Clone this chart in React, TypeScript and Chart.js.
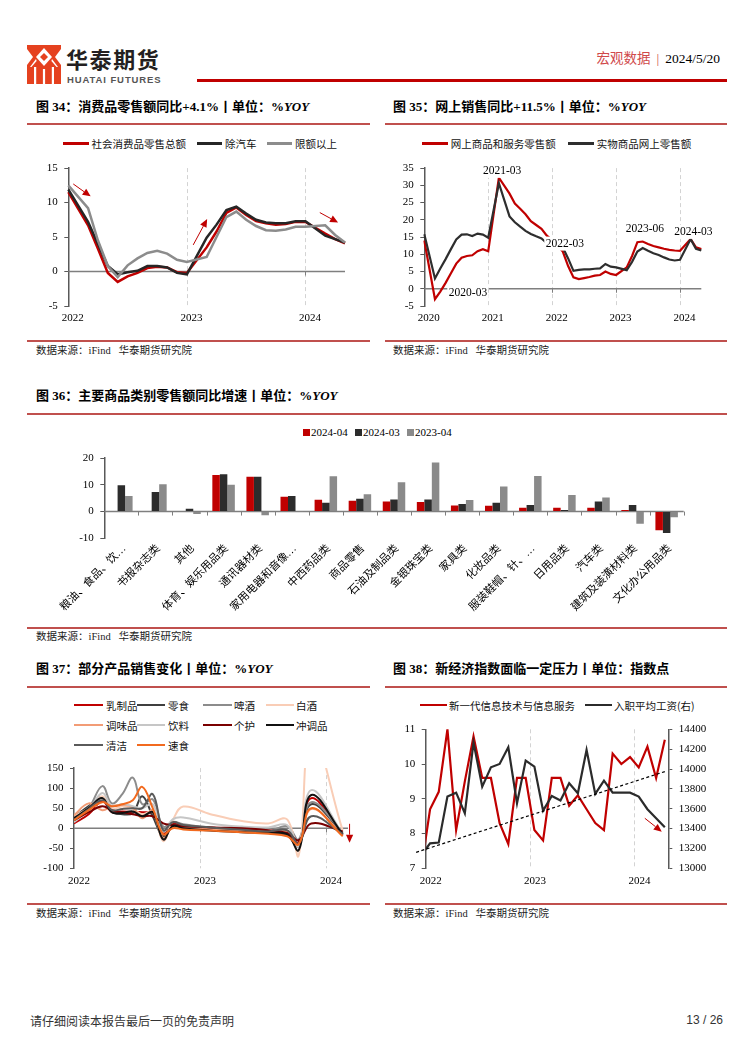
import React, { useEffect, useRef } from "react";
import { Chart, registerables } from "chart.js";

Chart.register(...registerables);

const SERIF = "'Liberation Serif', 'Noto Sans CJK SC', serif";
const SANS = "'Noto Sans CJK SC', 'Liberation Sans', sans-serif";
const RED = "#C00000";
const RULE = "#C0504D";

function monthSeq(year: number, month: number, n: number): string[] {
  const out: string[] = [];
  for (let i = 0; i < n; i++) {
    const t = year * 12 + (month - 1) + i;
    out.push(`${Math.floor(t / 12)}-${String((t % 12) + 1).padStart(2, "0")}`);
  }
  return out;
}
// month-end convention: the December point sits on the next year's boundary
const yearAtBoundary = (m: string) => (m.endsWith("-12") ? String(Number(m.slice(0, 4)) + 1) : "");

// ===================== 图34 =====================
const months34 = monthSeq(2021, 12, 29);
const names34 = ["社会消费品零售总额", "除汽车", "限额以上"];
const total34 = [11.5, null, 6.7, 3.3, -0.2, -1.5, -0.7, -0.2, 0.5, 0.7, 0.6, -0.1, -0.2, null, 3.5, 5.8, 8.5, 9.3, 8.2, 7.3, 7.0, 6.8, 6.9, 7.2, 7.2, null, 5.5, 4.7, 4.1];
const exAuto34 = [11.9, null, 7.2, 4.0, 0.8, -0.4, -0.1, 0.1, 0.8, 0.8, 0.6, -0.2, -0.4, null, 4.9, 6.8, 8.9, 9.4, 8.4, 7.5, 7.1, 7.0, 7.0, 7.3, 7.3, null, 5.2, 4.7, 4.2];
const aboveQuota34 = [12.5, null, 9.2, 4.5, 0.8, -0.8, 0.9, 1.9, 2.7, 3.0, 2.6, 1.7, 1.4, null, 2.1, 5.0, 7.9, 8.7, 7.5, 6.6, 6.0, 5.9, 6.1, 6.5, 6.5, null, 6.7, 5.3, 4.2];
const arrows34 = [
  { from: [0.5, 12.7], to: [2.26, 10.9] },
  { from: [12.64, 3.86], to: [14.05, 7.6] },
  { from: [25.45, 8.55], to: [27.3, 7.1] },
];

// ===================== 图35 =====================
const months35 = monthSeq(2019, 12, 53);
const names35 = ["网上商品和服务零售额", "实物商品网上零售额"];
const online35 = [
  14.0, null, -3.0, -0.8, 1.7, 4.5, 7.3, 9.0, 9.5, 9.7, 10.9, 11.5, 10.9,
  null, 32.2, 29.9, 27.6, 24.7, 23.2, 21.6, 19.6, 18.5, 17.4, 15.4, 14.1,
  null, 10.8, 6.6, 3.3, 2.8, 3.1, 3.4, 3.8, 4.0, 5.0, 4.3, 4.0,
  null, 6.2, 9.5, 13.5, 13.7, 13.0, 12.4, 12.0, 11.6, 11.3, 11.1, 11.0,
  null, 14.4, 12.0, 11.5,
];
const physical35 = [
  15.8, null, 3.0, 5.9, 8.6, 11.5, 14.3, 15.7, 15.8, 15.3, 16.0, 15.7, 14.8,
  null, 30.6, 25.8, 21.0, 19.3, 18.0, 16.8, 15.9, 15.2, 14.6, 13.2, 12.0,
  null, 12.0, 8.8, 5.2, 5.5, 5.6, 5.6, 5.8, 5.9, 7.2, 6.4, 6.2,
  null, 5.4, 7.8, 10.8, 11.8, 11.0, 10.3, 9.8, 9.1, 8.5, 8.2, 8.4,
  null, 14.4, 11.6, 11.1,
];
const notes35 = [
  { x: 14.6, y: 34.2, text: "2021-03" },
  { x: 8.2, y: -1.0, text: "2020-03" },
  { x: 26.4, y: 13.1, text: "2022-03" },
  { x: 41.4, y: 17.5, text: "2023-06" },
  { x: 50.5, y: 16.5, text: "2024-03" },
];

// ===================== 图36 =====================
const cats36 = ["粮油、食品、饮…", "书报杂志类", "其他", "体育、娱乐用品类", "通讯器材类", "家用电器和音像…", "中西药品类", "商品零售", "石油及制品类", "金银珠宝类", "家具类", "化妆品类", "服装鞋帽、针、…", "日用品类", "汽车类", "建筑及装潢材料类", "文化办公用品类"];
const names36 = ["2024-04", "2024-03", "2023-04"];
const apr24 = [null, null, null, 13.7, 13.0, 5.5, 4.4, 4.0, 3.8, 3.6, 2.3, 2.2, 1.4, 1.4, 1.4, 0.6, -7.0];
const mar24 = [9.8, 7.3, 1.1, 14.0, 13.0, 5.8, 3.3, 4.8, 4.5, 4.5, 2.8, 3.3, 2.5, 0.6, 3.8, 2.5, -8.0];
const apr23 = [5.8, 10.2, -0.9, 10.0, -1.4, 0.1, 13.2, 6.5, 11.0, 18.4, 4.3, 9.4, 13.3, 6.2, 5.3, -4.6, -2.1];

// ===================== 图37 =====================
const years37 = ["2022", "2023", "2024"];
const monthPos37 = [0, 1.4, 2.7, 3.6, 4.6, 5.6, 6.5, 7.5, 8.5, 9.4, 10.4, 13, 16, 18.5, 20.3, 21.4, 22.6, 25.6];
const names37 = ["乳制品", "零食", "啤酒", "白酒", "调味品", "饮料", "个护", "冲调品", "清洁", "速食"];
const dairy37 = [12, 35, 68, 40, 42, 40, 40, 35, -12, 12, 6, 2, -2, -6, -10, -35, 75, -18];
const snack37 = [28, 55, 78, 42, 35, 38, 80, 30, -20, 8, 2, -4, -8, -12, -18, -45, 60, -12];
const beer37 = [18, 50, 105, 62, 85, 126, 60, 72, 4, 16, 10, 2, -4, -8, 5, -28, 65, -10];
const liquor37 = [30, 50, 80, 48, 55, 48, 35, 40, -32, 20, 54, 35, 18, 12, 22, -68, 240, -6];
const season37 = [32, 62, 45, 55, 58, 52, 25, 45, -25, 5, 0, -2, -6, -8, -10, -40, 48, -16];
const drink37 = [15, 45, 88, 55, 60, 55, 50, 60, -8, 22, 27, 12, 4, 2, 8, -45, 95, -14];
const care37 = [20, 40, 55, 45, 40, 35, 30, 30, 12, 8, 5, 2, 0, -5, -12, -30, 12, -8];
const brew37 = [25, 50, 75, 40, 38, 42, 30, 40, -28, 5, 0, -6, -10, -12, -15, -55, 83, -15];
const clean37 = [20, 48, 70, 45, 48, 50, 50, 85, -5, 15, 8, 2, -4, -8, -5, -38, 30, -14];
const instant37 = [20, 45, 65, 55, 60, 70, 103, 50, -15, 0, -3, -6, -10, -14, -20, -40, 50, -20];
const colors37 = ["#C00000", "#3F3F3F", "#8C8C8C", "#F9CDB6", "#F29C76", "#C6C6C6", "#7A0000", "#111111", "#5A5A5A", "#F26A1F"];
const series37 = [dairy37, snack37, beer37, liquor37, season37, drink37, care37, brew37, clean37, instant37];
const arrow37 = { from: [26.25, 11], to: [26.25, -36] };

// ===================== 图38 =====================
const years38 = ["2022", "2023", "2024"];
const months38 = monthSeq(2021, 12, 29);
const names38 = ["新一代信息技术与信息服务", "入职平均工资(右)"];
const infoTech38 = [7.0, 8.7, 9.2, 11.0, 8.1, 9.5, 10.8, 9.6, 9.6, 8.3, 7.7, 9.6, 9.6, 8.1, 7.8, 9.6, 9.6, 8.8, 9.1, 8.7, 8.3, 8.1, 10.3, 10.0, 10.2, 9.9, 10.5, 9.6, 10.7];
const wage38 = [13132, 13252, 13259, 13722, 13762, 13554, 14266, 13823, 14017, 14051, 14219, 13655, 14085, 14024, 13581, 13729, 13682, 13856, 13756, 14192, 13749, 13883, 13762, 13762, 13762, 13722, 13595, 13504, 13413];
const trendX38 = [-1.1, 27.5];
const trendY38 = [13161, 13974];
const arrow38 = { from: [25.2, 13504], to: [27.15, 13369], axis: "y1" };

// ===================== helpers =====================
type Arrow = { from: number[]; to: number[]; axis?: string };
type Note = { x: number; y: number; text: string };
type DecorCfg = { vlines?: number[]; zero?: boolean; zeroTicks?: number[]; arrows?: Arrow[]; notes?: Note[]; head?: number };

function decor(cfg: DecorCfg) {
  return {
    id: "decor",
    beforeDatasetsDraw(chart: any) {
      const { ctx, chartArea: a } = chart;
      const xs = chart.scales.x;
      const ys = chart.scales.y;
      ctx.save();
      if (cfg.vlines) {
        ctx.strokeStyle = "#D3D3D3";
        ctx.lineWidth = 1;
        ctx.setLineDash([4, 3]);
        for (const v of cfg.vlines) {
          const px = Math.round(xs.getPixelForValue(v)) + 0.5;
          ctx.beginPath();
          ctx.moveTo(px, a.top);
          ctx.lineTo(px, a.bottom);
          ctx.stroke();
        }
        ctx.setLineDash([]);
      }
      if (cfg.zero) {
        const py = ys.getPixelForValue(0);
        ctx.strokeStyle = "#7F7F7F";
        ctx.lineWidth = 1.5;
        ctx.beginPath();
        ctx.moveTo(a.left, py);
        ctx.lineTo(a.right, py);
        ctx.stroke();
        ctx.lineWidth = 1;
        for (const v of cfg.zeroTicks || []) {
          const px = Math.round(xs.getPixelForValue(v)) + 0.5;
          ctx.beginPath();
          ctx.moveTo(px, py);
          ctx.lineTo(px, py + 4);
          ctx.stroke();
        }
      }
      ctx.restore();
    },
    afterDatasetsDraw(chart: any) {
      const { ctx } = chart;
      const xs = chart.scales.x;
      ctx.save();
      for (const ar of cfg.arrows || []) {
        const ys = chart.scales[ar.axis || "y"];
        const x1 = xs.getPixelForValue(ar.from[0]);
        const y1 = ys.getPixelForValue(ar.from[1]);
        const x2 = xs.getPixelForValue(ar.to[0]);
        const y2 = ys.getPixelForValue(ar.to[1]);
        const ang = Math.atan2(y2 - y1, x2 - x1);
        const hl = cfg.head || 8;
        const hw = (cfg.head || 8) * 0.45;
        const bx = x2 - hl * Math.cos(ang);
        const by = y2 - hl * Math.sin(ang);
        ctx.strokeStyle = RED;
        ctx.fillStyle = RED;
        ctx.lineWidth = 1;
        ctx.beginPath();
        ctx.moveTo(x1, y1);
        ctx.lineTo(bx, by);
        ctx.stroke();
        ctx.beginPath();
        ctx.moveTo(x2, y2);
        ctx.lineTo(bx - hw * Math.sin(ang), by + hw * Math.cos(ang));
        ctx.lineTo(bx + hw * Math.sin(ang), by - hw * Math.cos(ang));
        ctx.closePath();
        ctx.fill();
      }
      const ys0 = chart.scales.y;
      for (const n of cfg.notes || []) {
        const px = xs.getPixelForValue(n.x);
        const py = ys0.getPixelForValue(n.y);
        ctx.font = `11.5px ${SERIF}`;
        const w = ctx.measureText(n.text).width;
        ctx.fillStyle = "#FFFFFF";
        ctx.fillRect(px - w / 2 - 1.5, py - 7, w + 3, 14);
        ctx.fillStyle = "#000000";
        ctx.textAlign = "center";
        ctx.textBaseline = "middle";
        ctx.fillText(n.text, px, py + 0.5);
      }
      ctx.restore();
    },
  };
}

function yAxis(min: number, max: number, step: number, width: number, position = "left") {
  return {
    position,
    min,
    max,
    ticks: {
      stepSize: step,
      color: "#000",
      padding: 6.5,
      font: { size: 11, family: SERIF },
      callback: (v: number) => String(v),
    },
    grid: { drawOnChartArea: false, drawTicks: true, tickLength: 4, color: "#595959", lineWidth: 1 },
    border: { display: true, color: "#595959", width: 1.5 },
    afterFit: (s: any) => {
      s.width = width;
    },
  };
}

function xAxisCat(months: string[], height: number) {
  return {
    type: "category",
    offset: false,
    grid: { display: false, drawTicks: false },
    border: { display: false },
    ticks: {
      autoSkip: false,
      maxRotation: 0,
      minRotation: 0,
      labelOffset: 4.5,
      padding: 6,
      color: "#000",
      font: { size: 11, family: SERIF },
      callback: (_v: any, i: number) => yearAtBoundary(months[i]),
    },
    afterFit: (s: any) => {
      s.height = height;
    },
  };
}

function xAxisLin(max: number, years: string[], height: number) {
  return {
    type: "linear",
    min: 0,
    max,
    grid: { display: false, drawTicks: false },
    border: { display: false },
    afterBuildTicks: (s: any) => {
      s.ticks = years.map((_y, i) => ({ value: i * 12 }));
    },
    ticks: {
      autoSkip: false,
      maxRotation: 0,
      labelOffset: 5,
      padding: 6,
      color: "#000",
      font: { size: 11, family: SERIF },
      callback: (v: number) => years[Math.round(v / 12)],
    },
    afterFit: (s: any) => {
      s.height = height;
    },
  };
}

const baseOpts = (pad: any) => ({
  responsive: false,
  animation: false,
  devicePixelRatio: 1,
  events: [],
  layout: { padding: pad },
  plugins: { legend: { display: false }, tooltip: { enabled: false } },
});

const lineDs = (label: string, data: any[], color: string, width: number, order: number) => ({
  label,
  data,
  borderColor: color,
  backgroundColor: color,
  borderWidth: width,
  pointRadius: 0,
  spanGaps: true,
  tension: 0,
  order,
});

function config34(): any {
  return {
    type: "line",
    data: {
      labels: months34,
      datasets: [
        lineDs(names34[0], total34, RED, 2.5, 3),
        lineDs(names34[1], exAuto34, "#262626", 2.5, 2),
        lineDs(names34[2], aboveQuota34, "#8C8C8C", 2.5, 1),
      ],
    },
    options: {
      ...baseOpts({ top: 12.7, right: 25, left: 0, bottom: 0 }),
      scales: { x: xAxisCat(months34, 24), y: yAxis(-5, 15, 5, 40.3) },
    },
    plugins: [decor({ vlines: [12, 24], zero: true, zeroTicks: [12, 24], arrows: arrows34, head: 8 })],
  };
}

function config35(): any {
  return {
    type: "line",
    data: {
      labels: months35,
      datasets: [
        lineDs(names35[0], online35, RED, 2.2, 2),
        lineDs(names35[1], physical35, "#2E2E2E", 2.2, 1),
      ],
    },
    options: {
      ...baseOpts({ top: 12.7, right: 25.7, left: 0, bottom: 0 }),
      scales: { x: xAxisCat(months35, 24), y: yAxis(-5, 35, 5, 39.3) },
    },
    plugins: [decor({ vlines: [12, 24, 36, 48], zero: true, zeroTicks: [12, 24, 36, 48], notes: notes35 })],
  };
}

function config36(): any {
  const bar = (label: string, data: any[], color: string) => ({
    label,
    data,
    backgroundColor: color,
    borderWidth: 0,
    barPercentage: 1,
    categoryPercentage: 0.66,
  });
  return {
    type: "bar",
    data: {
      labels: cats36,
      datasets: [bar(names36[0], apr24, RED), bar(names36[1], mar24, "#2C2C2C"), bar(names36[2], apr23, "#8A8A8A")],
    },
    options: {
      ...baseOpts({ top: 12.3, right: 43.3, left: 0, bottom: 0 }),
      scales: {
        x: {
          type: "category",
          grid: { display: false, drawTicks: false },
          border: { display: false },
          ticks: {
            autoSkip: false,
            maxRotation: 45,
            minRotation: 45,
            padding: 4,
            labelOffset: 3,
            color: "#000",
            font: { size: 11, family: SERIF },
          },
          afterFit: (s: any) => {
            s.height = 81.7;
          },
        },
        y: yAxis(-10, 20, 5, 76.3),
      },
    },
    plugins: [
      decor({
        zero: true,
        zeroTicks: cats36.map((_c, i) => i + 0.5),
      }),
    ],
  };
}

function config37(): any {
  const ds = names37.map((name, i) => ({
    label: name,
    data: monthPos37.map((m, k) => ({ x: m, y: series37[i][k] })),
    borderColor: colors37[i],
    backgroundColor: colors37[i],
    borderWidth: 2,
    pointRadius: 0,
    tension: 0.4,
    order: names37.length - i,
  }));
  return {
    type: "line",
    data: { datasets: ds },
    options: {
      ...baseOpts({ top: 12.3, right: 22, left: 0, bottom: 0 }),
      scales: { x: xAxisLin(26.1, years37, 26.7), y: yAxis(-100, 150, 50, 46) },
    },
    plugins: [decor({ vlines: [12, 24], zero: true, zeroTicks: [12, 24], arrows: [arrow37], head: 8 })],
  };
}

function config38(): any {
  return {
    type: "line",
    data: {
      datasets: [
        {
          label: "trend",
          data: trendX38.map((x, i) => ({ x, y: trendY38[i] })),
          yAxisID: "y1",
          borderColor: "#000",
          borderWidth: 1.2,
          borderDash: [3, 2.5],
          pointRadius: 0,
          clip: false,
          order: 0,
        },
        {
          label: names38[1],
          data: months38.map((_m, i) => ({ x: i - 0.5, y: wage38[i] })),
          yAxisID: "y1",
          borderColor: "#2B2B2B",
          borderWidth: 2.2,
          pointRadius: 0,
          tension: 0,
          order: 1,
        },
        {
          label: names38[0],
          data: months38.map((_m, i) => ({ x: i - 0.5, y: infoTech38[i] })),
          yAxisID: "y",
          borderColor: RED,
          borderWidth: 2.2,
          pointRadius: 0,
          tension: 0,
          order: 2,
        },
      ],
    },
    options: {
      ...baseOpts({ top: 14.3, right: 0, left: 0, bottom: 0 }),
      scales: {
        x: xAxisLin(27.9, years38, 26.7),
        y: yAxis(7, 11, 1, 40.7),
        y1: yAxis(13000, 14400, 200, 58.7, "right"),
      },
    },
    plugins: [decor({ vlines: [12, 24], arrows: [arrow38], head: 8 })],
  };
}

function ChartBox({ make, left, top, width, height }: any) {
  const ref = useRef<HTMLCanvasElement>(null);
  useEffect(() => {
    const chart = new Chart(ref.current as HTMLCanvasElement, make());
    return () => chart.destroy();
  }, []);
  return (
    <canvas
      ref={ref}
      width={width}
      height={height}
      style={{ position: "absolute", left, top, width, height }}
    />
  );
}

function Txt({ x, cy, size, children, weight = 400, family = SERIF, color = "#000", style = {} }: any) {
  const lh = Math.round(size * 1.4);
  return (
    <div
      style={{
        position: "absolute",
        left: x,
        top: cy - lh / 2,
        lineHeight: `${lh}px`,
        fontSize: size,
        fontWeight: weight,
        fontFamily: family,
        color,
        whiteSpace: "nowrap",
        ...style,
      }}
    >
      {children}
    </div>
  );
}

function HLine({ x1, x2, y, h = 2, color = RULE }: any) {
  return <div style={{ position: "absolute", left: x1, top: y - h / 2, width: x2 - x1, height: h, background: color }} />;
}

function LegLine({ x1, x2, cy, color, label, tx }: any) {
  return (
    <>
      <HLine x1={x1} x2={x2} y={cy} h={2.6} color={color} />
      <Txt x={tx} cy={cy} size={10.5} family={SANS} color="#111">
        {label}
      </Txt>
    </>
  );
}

function Title({ x, cy, children }: any) {
  return (
    <Txt x={x} cy={cy} size={13} weight={700} family={SERIF}>
      {children}
    </Txt>
  );
}

function Source({ x, cy }: any) {
  return (
    <Txt x={x} cy={cy} size={10.5} family={SERIF} color="#222">
      数据来源：iFind&nbsp;&nbsp;&nbsp;华泰期货研究院
    </Txt>
  );
}

function Logo() {
  return (
    <svg width={34} height={39} viewBox="0 0 34 39" style={{ position: "absolute", left: 27, top: 45 }}>
      <rect x={0} y={0} width={34} height={39} fill="#E5411F" />
      <polygon points="17,3 25,12 17,21 9,12" fill="#fff" />
      <polygon points="0,4 6,12 0,20" fill="#fff" />
      <polygon points="34,4 28,12 34,20" fill="#fff" />
      <polygon points="17,8 21,12 17,16 13,12" fill="#E5411F" />
      <rect x={7} y={22} width={2.2} height={17} fill="#fff" />
      <rect x={15.9} y={24} width={2.2} height={15} fill="#fff" />
      <rect x={24.8} y={22} width={2.2} height={17} fill="#fff" />
      <polygon points="3,22 9,14 9.6,16 4.5,22" fill="#fff" />
      <polygon points="31,22 25,14 24.4,16 29.5,22" fill="#fff" />
    </svg>
  );
}

export default function App() {
  const col37 = [
    [74, 103, 106],
    [137, 165, 168],
    [203, 232, 234],
    [266, 294, 296],
  ];
  return (
    <div
      style={{
        position: "absolute",
        left: 0,
        top: 0,
        width: 753,
        height: 1053,
        background: "#fff",
        overflow: "hidden",
        fontFamily: SERIF,
        color: "#000",
      }}
    >
      {/* header */}
      <Logo />
      <Txt x={66} cy={58} size={22} weight={700} family={SANS} color="#231F20" style={{ letterSpacing: 1.6 }}>
        华泰期货
      </Txt>
      <Txt x={67} cy={79.5} size={9.5} weight={700} family="'Liberation Sans', sans-serif" color="#555" style={{ letterSpacing: 0.9 }}>
        HUATAI FUTURES
      </Txt>
      <HLine x1={197} x2={727} y={80.5} h={2.5} color={RED} />
      <div
        style={{
          position: "absolute",
          right: 33,
          top: 47,
          lineHeight: "20px",
          fontSize: 13.5,
          whiteSpace: "nowrap",
        }}
      >
        <span style={{ fontFamily: SANS, color: "#D0494B" }}>宏观数据</span>
        <span style={{ color: "#D0494B", margin: "0 6px" }}>|</span>
        <span style={{ fontFamily: SERIF }}>2024/5/20</span>
      </div>

      {/* 图34 */}
      <Title x={36} cy={106.7}>
        图 34：消费品零售额同比+4.1%丨单位：%<i>YOY</i>
      </Title>
      <HLine x1={27} x2={370} y={124.3} />
      <LegLine x1={63} x2={88.5} cy={143.3} color={RED} label={names34[0]} tx={91.5} />
      <LegLine x1={196.7} x2={222} cy={143.3} color="#262626" label={names34[1]} tx={225} />
      <LegLine x1={266.7} x2={292} cy={143.3} color="#8C8C8C" label={names34[2]} tx={295} />
      <ChartBox make={config34} left={28} top={155} width={342} height={175} />
      <HLine x1={27} x2={370} y={340.7} />
      <Source x={36} cy={350.5} />

      {/* 图35 */}
      <Title x={393} cy={106.7}>
        图 35：网上销售同比+11.5%丨单位：%<i>YOY</i>
      </Title>
      <HLine x1={385} x2={727} y={124.3} />
      <LegLine x1={421.7} x2={448.3} cy={143.3} color={RED} label={names35[0]} tx={450.7} />
      <LegLine x1={567.7} x2={594.3} cy={143.3} color="#2E2E2E" label={names35[1]} tx={596.7} />
      <ChartBox make={config35} left={385} top={155} width={342} height={175} />
      <HLine x1={385} x2={727} y={340.7} />
      <Source x={393} cy={350.5} />

      {/* 图36 */}
      <Title x={36} cy={396}>
        图 36：主要商品类别零售额同比增速丨单位：%<i>YOY</i>
      </Title>
      <HLine x1={27} x2={727} y={414.3} />
      {[RED, "#2C2C2C", "#8A8A8A"].map((c, i) => (
        <React.Fragment key={i}>
          <div style={{ position: "absolute", left: 303 + i * 52, top: 428.5, width: 7, height: 7, background: c }} />
          <Txt x={311 + i * 52} cy={432} size={11} family={SERIF}>
            {names36[i]}
          </Txt>
        </React.Fragment>
      ))}
      <ChartBox make={config36} left={28} top={445} width={699} height={175} />
      <HLine x1={27} x2={727} y={628.3} />
      <Source x={36} cy={636.7} />

      {/* 图37 */}
      <Title x={36} cy={669}>
        图 37：部分产品销售变化丨单位：%<i>YOY</i>
      </Title>
      <HLine x1={27} x2={370} y={686.7} />
      {names37.map((n, i) => {
        const c = col37[i % 4];
        const cy = 705 + Math.floor(i / 4) * 20;
        return <LegLine key={n} x1={c[0]} x2={c[1]} cy={cy} color={colors37[i]} label={n} tx={c[2]} />;
      })}
      <ChartBox make={config37} left={28} top={755} width={342} height={140} />
      <HLine x1={27} x2={370} y={904} />
      <Source x={36} cy={913.3} />

      {/* 图38 */}
      <Title x={393} cy={669}>
        图 38：新经济指数面临一定压力丨单位：指数点
      </Title>
      <HLine x1={385} x2={727} y={686.7} />
      <LegLine x1={420} x2={446.7} cy={705} color={RED} label={names38[0]} tx={449} />
      <LegLine x1={585} x2={611.7} cy={705} color="#2B2B2B" label={names38[1]} tx={614} />
      <ChartBox make={config38} left={385} top={715} width={342} height={180} />
      <HLine x1={385} x2={727} y={904} />
      <Source x={393} cy={913.3} />

      {/* footer */}
      <Txt x={30} cy={1020} size={12} family={SANS} color="#333">
        请仔细阅读本报告最后一页的免责声明
      </Txt>
      <div
        style={{
          position: "absolute",
          right: 30,
          top: 1011,
          lineHeight: "18px",
          fontSize: 12,
          fontFamily: "'Liberation Sans', sans-serif",
          color: "#333",
        }}
      >
        13 / 26
      </div>
    </div>
  );
}
